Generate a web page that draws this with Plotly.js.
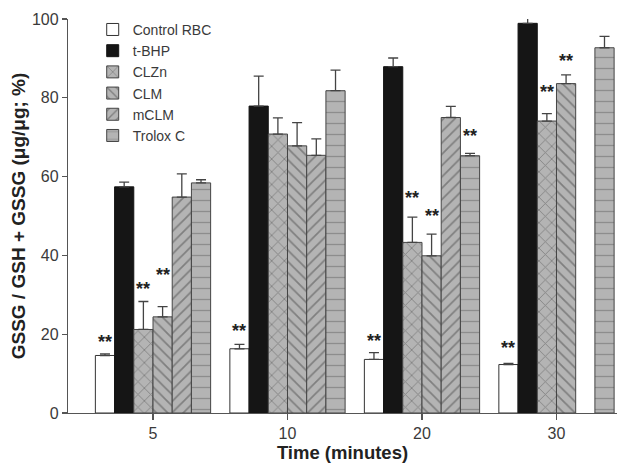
<!DOCTYPE html>
<html>
<head>
<meta charset="utf-8">
<script src="https://cdn.plot.ly/plotly-3.0.1.min.js"></script>
<style>html,body{margin:0;padding:0;background:#fff}#chart{width:620px;height:464px}</style>
</head>
<body>
<div id="chart"></div>
<script>
// ---- data ----
const groups = ['5', '10', '20', '30'];
const seriesNames = ['Control RBC', 't-BHP', 'CLZn', 'CLM', 'mCLM', 'Trolox C'];

const controlVals = [14.6, 16.3, 13.6, 12.3];
const controlErr  = [0.4, 1.1, 1.7, 0.3];
const tbhpVals    = [57.4, 77.9, 87.9, 98.9];
const tbhpErr     = [1.2, 7.6, 2.2, 1.4];
const clznVals    = [21.2, 70.8, 43.3, 74.1];
const clznErr     = [7.1, 4.1, 6.4, 1.9];
const clmVals     = [24.4, 67.8, 39.9, 83.6];
const clmErr      = [2.6, 5.9, 5.5, 2.2];
const mclmVals    = [54.8, 65.4, 75.0, null];
const mclmErr     = [5.9, 4.2, 2.8, null];
const troloxVals  = [58.4, 81.8, 65.3, 92.7];
const troloxErr   = [0.8, 5.2, 0.6, 2.9];

// height of the "**" significance marks (null = none)
const controlStars = [19.1, 21.8, 19.3, 17.5];
const tbhpStars    = [null, null, null, null];
const clznStars    = [32.6, null, 55.6, 82.4];
const clmStars     = [36.1, null, 50.9, 90.4];
const mclmStars    = [null, null, null, null];
const troloxStars  = [null, null, 71.4, null];

const yTicks = [0, 20, 40, 60, 80, 100];

// ---- styling ----
const FONT = 'Liberation Sans, Arial, sans-serif';
const TXT = '#3a3a3a';
const AX = '#555555';
const GRAY = '#b4b4b4';
const FG = '#4a4a4a';
const BARGAP = 0.143;

const values = [controlVals, tbhpVals, clznVals, clmVals, mclmVals, troloxVals];
const errs = [controlErr, tbhpErr, clznErr, clmErr, mclmErr, troloxErr];
const stars = [controlStars, tbhpStars, clznStars, clmStars, mclmStars, troloxStars];

const markers = [
  {color: '#ffffff', line: {color: '#333', width: 1}},
  {color: '#151515', line: {color: '#151515', width: 1}},
  {color: GRAY, line: {color: '#444', width: 1}, pattern: {shape: 'x', fillmode: 'overlay', fgcolor: FG, size: 9, solidity: 0.18}},
  {color: GRAY, line: {color: '#444', width: 1}, pattern: {shape: '\\', fillmode: 'overlay', fgcolor: FG, size: 8, solidity: 0.22}},
  {color: GRAY, line: {color: '#444', width: 1}, pattern: {shape: '/', fillmode: 'overlay', fgcolor: FG, size: 8, solidity: 0.22}},
  {color: GRAY, line: {color: '#444', width: 1}, pattern: {shape: '-', fillmode: 'overlay', fgcolor: '#666', size: 11, solidity: 0.12}}
];

const traces = seriesNames.map((name, i) => ({
  type: 'bar',
  name: name,
  x: groups,
  y: values[i],
  marker: markers[i],
  error_y: {
    type: 'data', symmetric: false,
    array: errs[i], arrayminus: errs[i].map(() => 0),
    color: '#444', thickness: 1.3, width: 5
  },
  hoverinfo: 'skip'
}));

// "**" marks positioned on each bar of the group
const nSeries = seriesNames.length;
const barW = (1 - BARGAP) / nSeries;
const annotations = [];
stars.forEach((arr, i) => {
  arr.forEach((y, g) => {
    if (y === null) return;
    annotations.push({
      xref: 'x', yref: 'y',
      x: g + (i - (nSeries - 1) / 2) * barW,
      y: y,
      text: '<b>**</b>', showarrow: false,
      font: {family: FONT, size: 18, color: '#222'},
      xanchor: 'center', yanchor: 'middle', yshift: -4
    });
  });
});

const layout = {
  width: 620, height: 464,
  margin: {l: 68, r: 3, t: 19, b: 50.5, pad: 0},
  paper_bgcolor: '#ffffff', plot_bgcolor: '#ffffff',
  font: {family: FONT, color: TXT, size: 15},
  barmode: 'group', bargap: BARGAP, bargroupgap: 0,
  showlegend: true,
  legend: {
    x: 0.045, y: 1.013, xanchor: 'left', yanchor: 'top',
    bgcolor: 'rgba(0,0,0,0)', borderwidth: 0,
    font: {family: FONT, size: 14, color: TXT},
    itemwidth: 30, tracegroupgap: 0, traceorder: 'normal'
  },
  xaxis: {
    type: 'category', range: [-0.632, 3.45],
    showline: true, linecolor: AX, linewidth: 1.2,
    ticks: 'outside', ticklen: 6, tickcolor: AX, tickwidth: 1.2,
    showgrid: false, zeroline: false,
    tickfont: {family: FONT, size: 16, color: TXT},
    title: {text: 'Time (minutes)', font: {family: FONT, size: 18.5, color: '#222', weight: 'bold'}, standoff: 4}
  },
  yaxis: {
    range: [0, 100], tickvals: yTicks,
    showline: true, linecolor: AX, linewidth: 1.2,
    ticks: 'outside', ticklen: 5, tickcolor: AX, tickwidth: 1.2,
    showgrid: false, zeroline: false,
    tickfont: {family: FONT, size: 16, color: TXT},
    title: {text: 'GSSG / GSH + GSSG (μg/μg; %)', font: {family: FONT, size: 19, color: '#222', weight: 'bold'}, standoff: 1}
  },
  annotations: annotations
};

Plotly.newPlot('chart', traces, layout, {displayModeBar: false, staticPlot: true});
</script>
</body>
</html>
